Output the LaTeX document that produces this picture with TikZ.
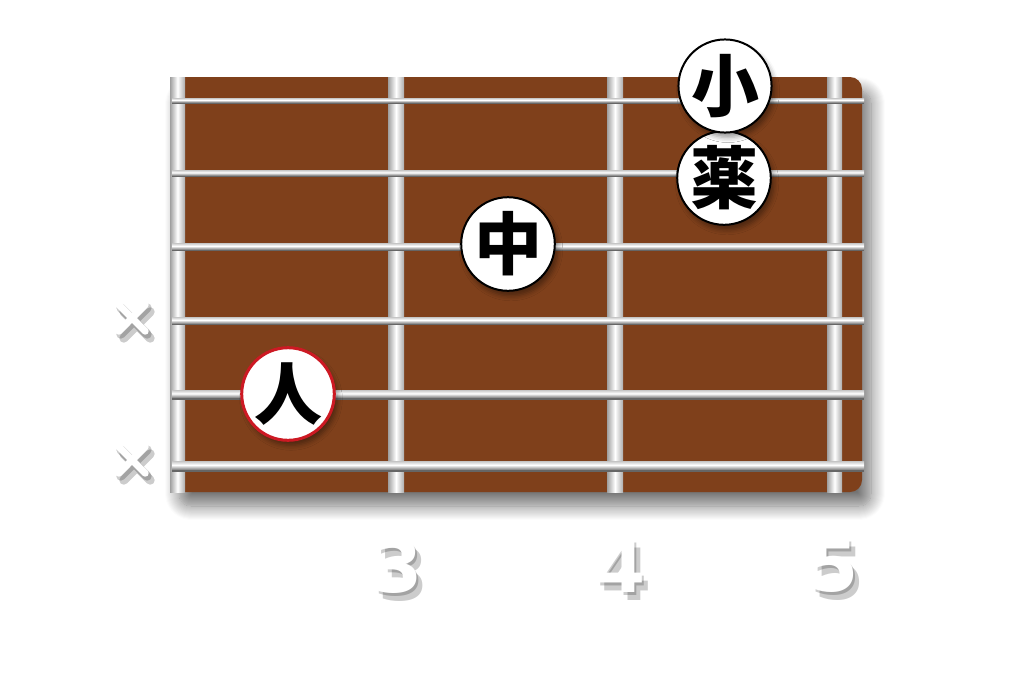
\documentclass[tikz,border=0pt]{standalone}
\usepackage{fontspec}
\setmainfont{Liberation Sans}
\newfontfamily\cjk{Noto Sans CJK JP}
\newfontfamily\numfont{DejaVu Sans}
\usetikzlibrary{shadows,shadows.blur}
\definecolor{board}{RGB}{127,64,27}
\definecolor{redring}{RGB}{205,25,35}
\begin{document}
\begin{tikzpicture}[x=1pt,y=-1pt,
    fret/.style={shading=axis,left color=gray!75,right color=gray!65,middle color=white},
    wire/.style={shading=axis,top color=gray!45,bottom color=gray!85,middle color=white},
    finger/.style={circle,draw=black,line width=2pt,fill=white,minimum size=90pt,inner sep=0pt,
      font=\cjk\bfseries\fontsize{68}{68}\selectfont,
      blur shadow={shadow xshift=3pt,shadow yshift=-5pt,shadow blur radius=5pt,shadow opacity=40}},
    fretnum/.style={font=\numfont\bfseries\fontsize{72}{72}\selectfont,text=white},
    numshade/.style={font=\numfont\bfseries\fontsize{72}{72}\selectfont,text=black,opacity=.2},
    muted/.style={minimum size=26pt,inner sep=0pt},
    xline/.style={white,line width=7pt,line cap=round},
    xshade/.style={black,line width=9pt,line cap=round,opacity=.2}]
  \useasboundingbox (0,0) rectangle (1024,683);
  % fretboard
  \fill[board,rounded corners=12pt,
    blur shadow={shadow xshift=9pt,shadow yshift=-14pt,shadow blur radius=14pt,shadow blur steps=14,shadow opacity=55}]
    (170,77) rectangle (862,492);
  % frets
  \shade[fret] (170,77) rectangle (185,492);
  \shade[fret] (388,77) rectangle (404,492);
  \shade[fret] (607,77) rectangle (623,492);
  \shade[fret] (827,77) rectangle (842,492);
  % strings
  \begin{scope}
    \fill[black!60] (172,101) rectangle (864,104);
    \shade[wire] (172,98) rectangle (864,102);
    \fill[black!60] (172,174) rectangle (864,177);
    \shade[wire] (172,170) rectangle (864,175);
    \fill[black!60] (172,248) rectangle (864,251);
    \shade[wire] (172,243) rectangle (864,249);
    \fill[black!60] (172,322) rectangle (864,325);
    \shade[wire] (172,317) rectangle (864,323);
    \fill[black!60] (172,397) rectangle (864,400);
    \shade[wire] (172,390) rectangle (864,397);
    \fill[black!60] (172,469) rectangle (864,472);
    \shade[wire] (172,461) rectangle (864,469);
  \end{scope}
  % muted strings
  \node[muted] (x4) at (132,318) {};
  \node[muted] (x6) at (132,460) {};
  \draw[xshade] ([shift={(2,3)}]x4.north west) -- ([shift={(2,3)}]x4.south east)
    ([shift={(2,3)}]x4.north east) -- ([shift={(2,3)}]x4.south west);
  \draw[xshade] ([shift={(5,7)}]x4.north west) -- ([shift={(5,7)}]x4.south east)
    ([shift={(5,7)}]x4.north east) -- ([shift={(5,7)}]x4.south west);
  \draw[xshade] ([shift={(2,3)}]x6.north west) -- ([shift={(2,3)}]x6.south east)
    ([shift={(2,3)}]x6.north east) -- ([shift={(2,3)}]x6.south west);
  \draw[xshade] ([shift={(5,7)}]x6.north west) -- ([shift={(5,7)}]x6.south east)
    ([shift={(5,7)}]x6.north east) -- ([shift={(5,7)}]x6.south west);
  \draw[xline] (x4.north west) -- (x4.south east) (x4.north east) -- (x4.south west);
  \draw[xline] (x6.north west) -- (x6.south east) (x6.north east) -- (x6.south west);
  % fingers
  \node[finger] (ring) at (724,178) {薬};
  \node[finger] (little) at (725,86) {小};
  \node[finger] (middle) at (508,244) {中};
  \node[finger,draw=redring,line width=3pt] (index) at (288,394) {人};
  % fret numbers
  \node[numshade] at (400,569) {3};
  \node[numshade] at (404,574) {3};
  \node[numshade] at (623,569) {4};
  \node[numshade] at (627,574) {4};
  \node[numshade] at (836,569) {5};
  \node[numshade] at (840,574) {5};
  \node[fretnum] (n3) at (398,566) {3};
  \node[fretnum] (n4) at (621,566) {4};
  \node[fretnum] (n5) at (834,566) {5};
\end{tikzpicture}
\end{document}
